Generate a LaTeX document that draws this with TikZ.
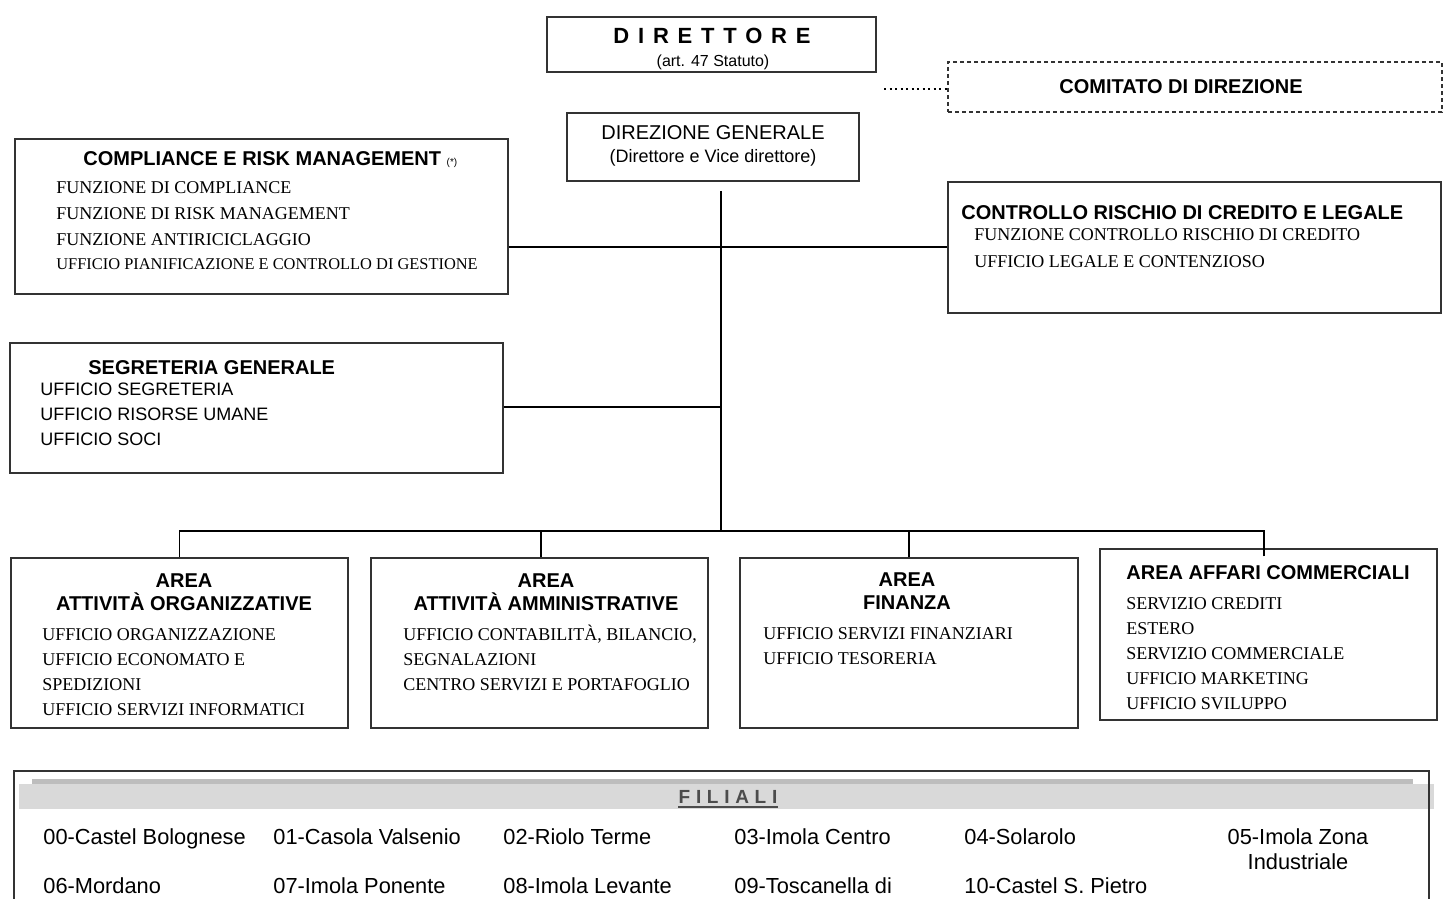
\documentclass[tikz,border=0pt]{standalone}
\usepackage{fontspec}
\setmainfont{Liberation Serif}
\setsansfont{Liberation Sans}
\usetikzlibrary{fit}

\tikzset{
  box/.style={draw=black!80, line width=0.7pt, inner sep=0pt},
  link/.style={line width=0.8pt, black},
  head/.style={inner sep=0pt, anchor=base,
    font=\sffamily\bfseries\fontsize{10}{12}\selectfont},
  item/.style={inner sep=0pt, anchor=base west,
    font=\fontsize{9}{11}\selectfont},
  sitem/.style={inner sep=0pt, anchor=base west,
    font=\sffamily\fontsize{9}{11}\selectfont},
  filiale/.style={inner sep=0pt, anchor=base west,
    font=\sffamily\fontsize{10.9}{13}\selectfont},
}

\begin{document}
\begin{tikzpicture}[x=0.5pt, y=-0.5pt]
  \useasboundingbox (0,0) rectangle (1447,899);
  \clip (0,0) rectangle (1447,899);
  % units = pixels of the page, y downwards

  \coordinate (spine) at (721,191);
  \coordinate (bus) at (721,531);
  \coordinate (hl) at (0,247);
  \coordinate (sl) at (0,407);
  \coordinate (dots) at (884,89);

  % top
  \node[box, fit={(547,17) (876,72)}] (dir) {};
  \node[head, font=\sffamily\bfseries\fontsize{11}{12}\selectfont
    \addfontfeature{LetterSpace=40}] (dirT) at (712,43.5) {DIRETTORE};
  \node[head, font=\sffamily\fontsize{8}{10}\selectfont]
    (dirS) at (713,66.5) {(art. 47 Statuto)};

  \node[box, dash pattern=on 2.2pt off 1.3pt, fit={(948,62) (1442,112)}]
    (comit) {};
  \node[head] (comitT) at (1181,94) {COMITATO DI DIREZIONE};
  \draw[line width=1.2pt, dash pattern=on 1pt off 1.75pt]
    (dots) -- (comit.west |- dots);

  \node[box, fit={(567,113) (859,181)}] (dirgen) {};
  \node[head, font=\sffamily\fontsize{10}{12}\selectfont]
    (dirgenT) at (713,140) {DIREZIONE GENERALE};
  \node[head, font=\sffamily\fontsize{9}{11}\selectfont]
    (dirgenS) at (713,162.5) {(Direttore e Vice direttore)};

  % staff boxes
  \node[box, fit={(15,139) (508,294)}] (compl) {};
  \node[head, anchor=base west] (complT) at (83,166)
    {COMPLIANCE E RISK MANAGEMENT
     {\mdseries\fontsize{5}{6}\selectfont(*)}};
  \foreach \t [count=\i from 0] in {FUNZIONE DI COMPLIANCE,
      FUNZIONE DI RISK MANAGEMENT, FUNZIONE ANTIRICICLAGGIO}
    \node[item] (compl-\i) at (56,{194+25.5*\i}) {\t};
  \node[item, font=\fontsize{8.2}{10}\selectfont] (compl-3) at (56,269.5)
    {UFFICIO PIANIFICAZIONE E CONTROLLO DI GESTIONE};

  \node[box, fit={(948,182) (1441,313)}] (ctrl) {};
  \node[head, anchor=base west] (ctrlT) at (961,220)
    {CONTROLLO RISCHIO DI CREDITO E LEGALE};
  \node[item] (ctrl-0) at (974,241) {FUNZIONE CONTROLLO RISCHIO DI CREDITO};
  \node[item] (ctrl-1) at (974,267) {UFFICIO LEGALE E CONTENZIOSO};

  \node[box, fit={(10,343) (503,473)}] (segr) {};
  \node[head, anchor=base west] (segrT) at (88,374) {SEGRETERIA GENERALE};
  \foreach \t [count=\i from 0] in {UFFICIO SEGRETERIA,
      UFFICIO RISORSE UMANE, UFFICIO SOCI}
    \node[sitem] (segr-\i) at (40,{395.5+25*\i}) {\t};

  % areas
  \node[box, fit={(11,558) (348,728)}] (ao) {};
  \node[head] (aoA) at (184,587) {AREA};
  \node[head] (aoT) at (184,610) {ATTIVITÀ ORGANIZZATIVE};
  \foreach \t [count=\i from 0] in {UFFICIO ORGANIZZAZIONE,
      UFFICIO ECONOMATO E, SPEDIZIONI, UFFICIO SERVIZI INFORMATICI}
    \node[item] (ao-\i) at (42,{640+25*\i}) {\t};

  \node[box, fit={(371,558) (708,728)}] (aa) {};
  \node[head] (aaA) at (546,587) {AREA};
  \node[head] (aaT) at (546,610) {ATTIVITÀ AMMINISTRATIVE};
  \foreach \t [count=\i from 0] in {{UFFICIO CONTABILITÀ, BILANCIO,},
      SEGNALAZIONI, CENTRO SERVIZI E PORTAFOGLIO}
    \node[item] (aa-\i) at (403,{640+25*\i}) {\t};

  \node[box, fit={(740,558) (1078,728)}] (fin) {};
  \node[head] (finA) at (907,586) {AREA};
  \node[head] (finT) at (907,609) {FINANZA};
  \foreach \t [count=\i from 0] in {UFFICIO SERVIZI FINANZIARI,
      UFFICIO TESORERIA}
    \node[item] (fin-\i) at (763,{639+25*\i}) {\t};

  \node[box, fit={(1100,549) (1437,720)}] (com) {};
  \node[head, anchor=base west] (comT) at (1126,579)
    {AREA AFFARI COMMERCIALI};
  \foreach \t [count=\i from 0] in {SERVIZIO CREDITI, ESTERO,
      SERVIZIO COMMERCIALE, UFFICIO MARKETING, UFFICIO SVILUPPO}
    \node[item] (com-\i) at (1126,{609+25*\i}) {\t};

  % connectors
  \draw[link] (spine) -- (bus);
  \draw[link] (compl.east |- hl) -- (ctrl.west |- hl);
  \draw[link] (segr.east |- sl) -- (spine |- sl);
  \draw[link] (ao.north) |- (bus);
  \draw[link] ([xshift=-2.25pt, yshift=-4pt]com.north) |- (bus);
  \draw[link] ([xshift=0.75pt]aa.north) -- ([xshift=0.75pt]aa.north |- bus);
  \draw[link] (fin.north) -- (fin.north |- bus);

  % filiali
  \fill[black!15] (19,784) rectangle (1434,809);
  \fill[black!26] (32,779) rectangle (1413,784);
  \node[box, fit={(14,771) (1429,960)}] (filbox) {};
  \node[head, text=black!70, font=\sffamily\bfseries\fontsize{9.5}{11}\selectfont
    \addfontfeature{LetterSpace=30}] (fil) at (728,803) {FILIALI};
  \draw[line width=1.3pt, black!70]
    ([yshift=-2pt]fil.base west) -- ([yshift=-2pt]fil.base east);

  \foreach \x/\t [count=\i] in {43/00-Castel Bolognese,
      273/01-Casola Valsenio, 503/02-Riolo Terme, 734/03-Imola Centro,
      964/04-Solarolo}
    \node[filiale] (fa-\i) at (\x,844.5) {\t};
  \node[filiale, anchor=base] (fa-6) at (1298,844.5) {05-Imola Zona};
  \node[filiale, anchor=base] (fa-6b) at (1298,869.5) {Industriale};
  \foreach \x/\t [count=\i] in {43/06-Mordano, 273/07-Imola Ponente,
      503/08-Imola Levante, 734/09-Toscanella di, 964/10-Castel S. Pietro}
    \node[filiale] (fb-\i) at (\x,893.5) {\t};
\end{tikzpicture}
\end{document}
